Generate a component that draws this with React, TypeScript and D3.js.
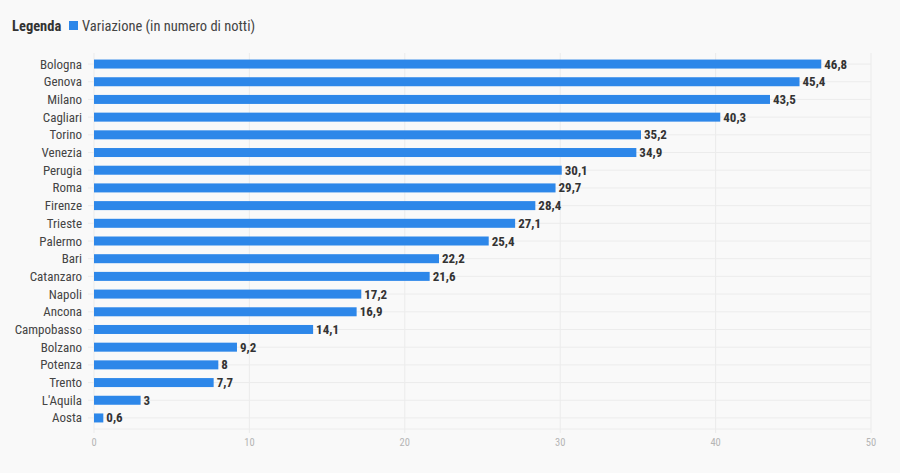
import React from "react";
import * as d3 from "d3";

const cities = ["Bologna","Genova","Milano","Cagliari","Torino","Venezia","Perugia","Roma","Firenze","Trieste","Palermo","Bari","Catanzaro","Napoli","Ancona","Campobasso","Bolzano","Potenza","Trento","L'Aquila","Aosta"];
const values = [46.8,45.4,43.5,40.3,35.2,34.9,30.1,29.7,28.4,27.1,25.4,22.2,21.6,17.2,16.9,14.1,9.2,8,7.7,3,0.6];
const xTicks = [0,10,20,30,40,50];
const legendTitle = "Legenda";
const seriesName = "Variazione (in numero di notti)";

const W = 900, H = 473;
const FONT = "'Roboto Condensed', Roboto, sans-serif";

export default function App() {
  const x = d3.scaleLinear().domain([0, 50]).range([94, 871]);
  const y = d3.scaleBand().domain(cities).range([55.2, 426.8]).paddingInner(0.5).paddingOuter(0.25);
  const fmt = (v: number) => String(v).replace(".", ",");
  const bh = 9;
  return (
    <div style={{ position: "fixed", left: 0, top: 0, width: W, height: H, background: "#f9f9f9" }}>
      <svg width={W} height={H} style={{ display: "block", fontFamily: FONT }}>
        <rect width={W} height={H} fill="#f9f9f9" />
        <text x={12} y={30.5} fontSize={14.5} fontWeight={700} fill="#333">{legendTitle}</text>
        <rect x={69} y={21} width={9} height={9} fill="#2d87e9" />
        <text x={82} y={30.5} fontSize={14.5} fill="#444">{seriesName}</text>
        {xTicks.map(t => (
          <g key={t}>
            <line x1={x(t)} x2={x(t)} y1={53} y2={433} stroke="#ebebeb" strokeWidth={1} />
            <text x={x(t)} y={446} fontSize={10.5} fill="#b5b5b5" textAnchor="middle">{t}</text>
          </g>
        ))}
        {cities.map(c => {
          const cy = (y(c) as number) + y.bandwidth() / 2;
          return <line key={"g" + c} x1={88} x2={871} y1={cy} y2={cy} stroke="#ececec" strokeWidth={1} />;
        })}
        <line x1={94} x2={871} y1={429} y2={429} stroke="#ececec" />
        {cities.map((c, i) => {
          const cy = (y(c) as number) + y.bandwidth() / 2;
          return (
            <g key={c}>
              <text x={82} y={cy + 4.5} fontSize={13} fill="#444" textAnchor="end">{c}</text>
              <rect x={x(0)} y={cy - bh / 2} width={x(values[i]) - x(0)} height={bh} fill="#2d87e9" />
              <text x={x(values[i]) + 3} y={cy + 4.5} fontSize={13} fontWeight={700} fill="#333">{fmt(values[i])}</text>
            </g>
          );
        })}
      </svg>
    </div>
  );
}
